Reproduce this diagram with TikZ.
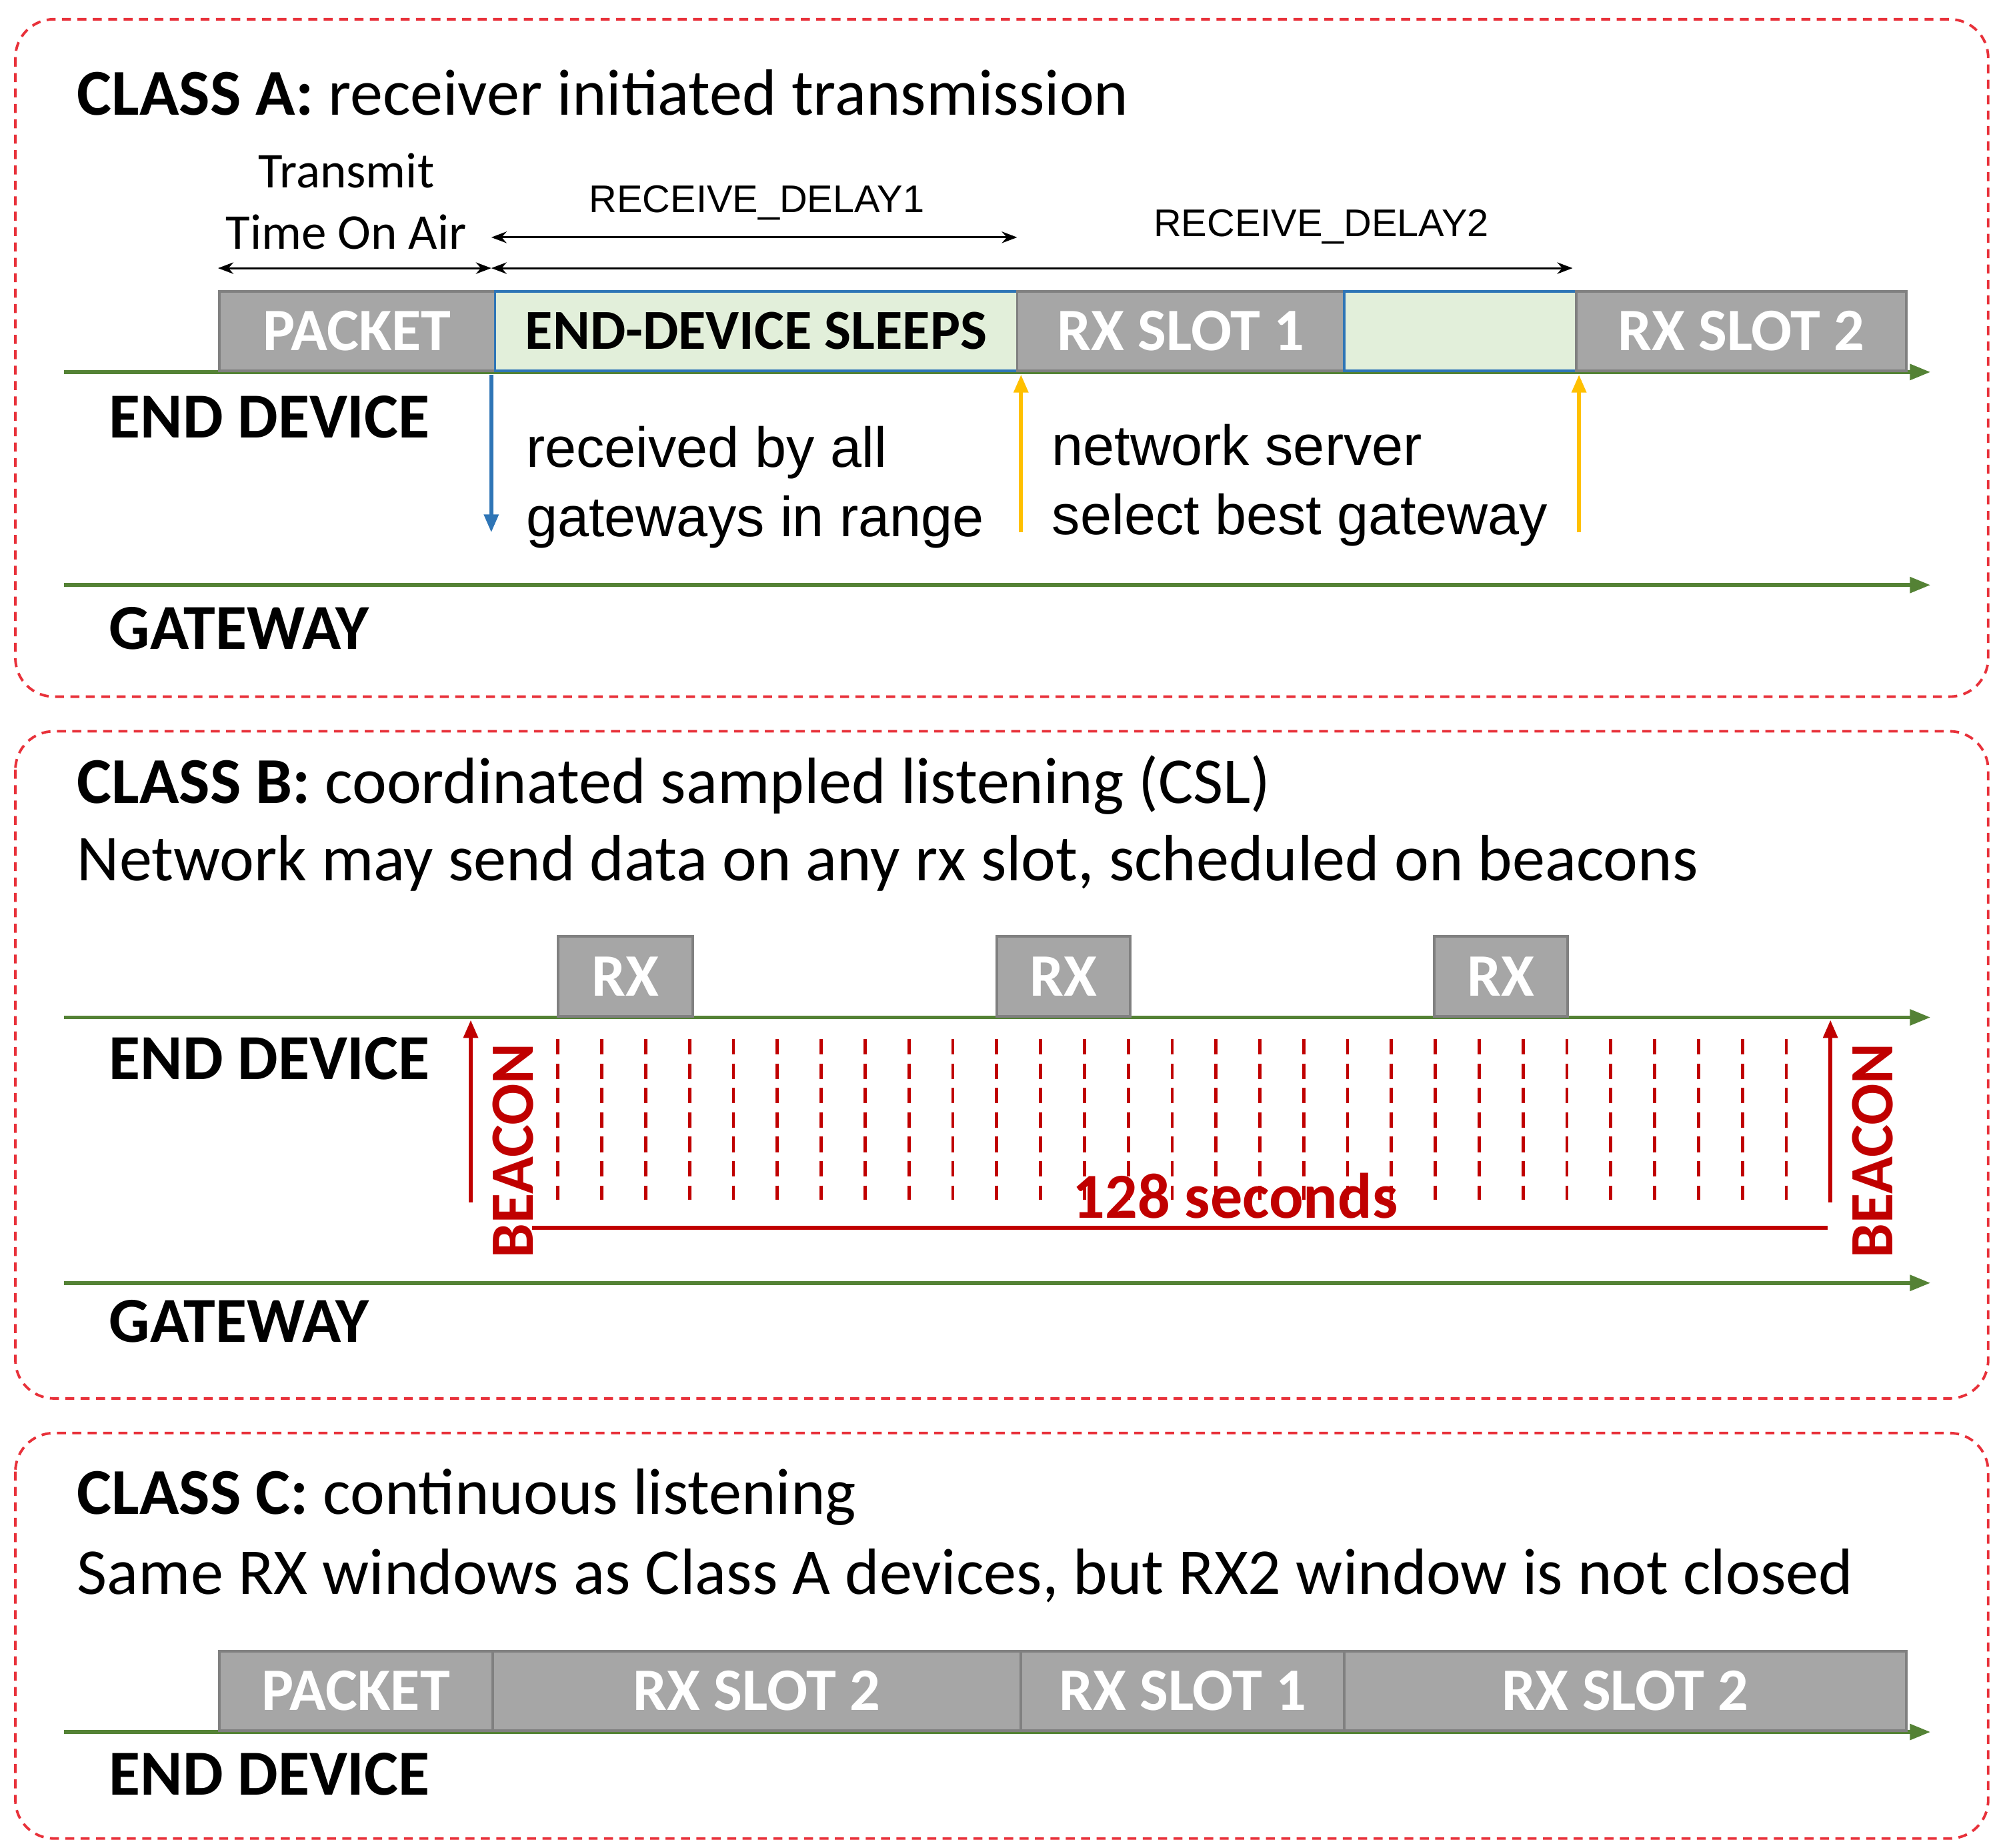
\documentclass[tikz,border=0pt]{standalone}
\usepackage{fontspec}
\setmainfont{Carlito}
\newfontfamily\arial{Liberation Sans}
\usetikzlibrary{arrows.meta}
\definecolor{ln}{HTML}{548235}
\definecolor{gb}{HTML}{A6A6A6}
\definecolor{gbd}{HTML}{808080}
\definecolor{lg}{HTML}{E2EFDA}
\definecolor{bb}{HTML}{2E75B6}
\definecolor{rd}{HTML}{C00000}
\definecolor{pr}{HTML}{E8313A}
\definecolor{yo}{HTML}{FFC000}
\begin{document}
\begin{tikzpicture}[x=1pt,y=-1pt,
 panel/.style={draw=pr,dashed,line width=2pt,dash pattern=on 7pt off 5pt,rounded corners=30pt},
 tl/.style={draw=ln,line width=3pt,-{Triangle[length=16pt,width=12pt]}},
 box/.style={draw=gbd,fill=gb,line width=2pt,anchor=south west,minimum height=62pt,inner sep=0pt,text=white,font=\fontsize{47}{56}\selectfont\bfseries},
 sbox/.style={draw=bb,fill=lg,line width=2pt,anchor=south west,minimum height=62pt,inner sep=0pt,text=black,font=\fontsize{44}{54}\selectfont\bfseries},
 title/.style={anchor=west,inner sep=0pt,font=\fontsize{51}{60}\selectfont},
 lab/.style={anchor=west,inner sep=0pt,font=\fontsize{50}{60}\selectfont\bfseries},
 ar/.style={inner sep=0pt,font=\arial\fontsize{44}{54}\selectfont},
 dim/.style={line width=1.5pt,{Stealth[length=12pt,width=9pt]}-{Stealth[length=12pt,width=9pt]}},
 sm/.style={inner sep=0pt,font=\fontsize{39}{46}\selectfont},
 sma/.style={inner sep=0pt,font=\arial\fontsize{30}{36}\selectfont},
 rarr/.style={draw=rd,line width=3pt,-{Triangle[length=14pt,width=11pt]}},
 beacon/.style={text=rd,rotate=90,inner sep=0pt,font=\fontsize{48}{56}\selectfont\bfseries}
]
\useasboundingbox (0,0) rectangle (1560,1440);
% panels
\draw[panel] (12,15) rectangle (1550,543);
\draw[panel] (12,570) rectangle (1550,1090);
\draw[panel] (12,1117) rectangle (1550,1433);
%%% CLASS A
\node[title] (ta) at (60,72) {\textbf{CLASS A:} receiver initiated transmission};
\coordinate (edA0) at (50,290); \coordinate (edA1) at (1505,290);
\draw[tl] (edA0) -- (edA1);
\coordinate (gwA0) at (50,456); \coordinate (gwA1) at (1505,456);
\draw[tl] (gwA0) -- (gwA1);
\node[box,minimum width=215pt] (pa) at (170,290) {PACKET};
\node[sbox,minimum width=407pt] (sl) at (385,290) {END-DEVICE SLEEPS};
\node[box,minimum width=255pt] (r1) at (792,290) {RX SLOT 1};
\node[sbox,minimum width=181pt] (em) at (1047,290) {};
\node[box,minimum width=257pt] (r2) at (1228,290) {RX SLOT 2};
\node[lab] (edA) at (85,325) {END DEVICE};
\node[lab] (gwA) at (85,490) {GATEWAY};
\coordinate (bl1) at (383,292); \coordinate (bl2) at (383,415);
\draw[draw=bb,line width=3pt,-{Triangle[length=14pt,width=11pt]}] (bl1) -- (bl2);
\coordinate (y1a) at (796,415); \coordinate (y1b) at (796,292);
\draw[draw=yo,line width=3pt,-{Triangle[length=14pt,width=11pt]}] (y1a) -- (y1b);
\coordinate (y2a) at (1231,415); \coordinate (y2b) at (1231,292);
\draw[draw=yo,line width=3pt,-{Triangle[length=14pt,width=11pt]}] (y2a) -- (y2b);
\node[ar,anchor=west,align=left] (rx) at (410,380) {received by all\\gateways in range};
\node[ar,anchor=west,align=left] (ns) at (820,378) {network server\\select best gateway};
\node[sm] (tt1) at (270,133) {Transmit};
\node[sm] (tt2) at (270,181) {Time On Air};
\coordinate (d1a) at (170,209); \coordinate (d1b) at (383,209);
\draw[dim] (d1a) -- (d1b);
\coordinate (d2a) at (383,185); \coordinate (d2b) at (793,185);
\draw[dim] (d2a) -- (d2b);
\node[sma] (rd1) at (590,158) {RECEIVE\_DELAY1};
\coordinate (d3a) at (383,209); \coordinate (d3b) at (1226,209);
\draw[dim] (d3a) -- (d3b);
\node[sma] (rd2) at (1030,177) {RECEIVE\_DELAY2};
%%% CLASS B
\node[title] (tb) at (60,612) {\textbf{CLASS B:} coordinated sampled listening (CSL)};
\node[title] (tb2) at (60,673) {Network may send data on any rx slot, scheduled on beacons};
\coordinate (edB0) at (50,793); \coordinate (edB1) at (1505,793);
\draw[tl] (edB0) -- (edB1);
\coordinate (gwB0) at (50,1000); \coordinate (gwB1) at (1505,1000);
\draw[tl] (gwB0) -- (gwB1);
\node[box,minimum width=105pt] (b1) at (434,793) {RX};
\node[box,minimum width=104pt] (b2) at (776,793) {RX};
\node[box,minimum width=104pt] (b3) at (1117,793) {RX};
\node[lab] (edB) at (85,825) {END DEVICE};
\node[lab] (gwB) at (85,1030) {GATEWAY};
\foreach \i in {0,...,28} {
  \draw[rd,line width=2.5pt,dash pattern=on 12pt off 7pt] ({435+\i*34.2},810) -- ({435+\i*34.2},935);
}
\coordinate (ba1) at (367,937); \coordinate (ba2) at (367,795);
\draw[rarr] (ba1) -- (ba2);
\coordinate (bb1) at (1427,937); \coordinate (bb2) at (1427,795);
\draw[rarr] (bb1) -- (bb2);
\node[beacon] (be1) at (400,897) {BEACON};
\node[beacon] (be2) at (1460,897) {BEACON};
\coordinate (h1) at (415,957); \coordinate (h2) at (1425,957);
\draw[rd,line width=3pt] (h1) -- (h2);
\node[text=rd,inner sep=0pt,font=\fontsize{50}{58}\selectfont\bfseries] (sec) at (963,932) {128 seconds};
%%% CLASS C
\node[title] (tc) at (60,1167) {\textbf{CLASS C:} continuous listening};
\node[title] (tc2) at (60,1228) {Same RX windows as Class A devices, but RX2 window is not closed};
\coordinate (edC0) at (50,1350); \coordinate (edC1) at (1505,1350);
\draw[tl] (edC0) -- (edC1);
\node[box,minimum width=213pt] (c1) at (170,1350) {PACKET};
\node[box,minimum width=412pt] (c2) at (383,1350) {RX SLOT 2};
\node[box,minimum width=252pt] (c3) at (795,1350) {RX SLOT 1};
\node[box,minimum width=438pt] (c4) at (1047,1350) {RX SLOT 2};
\node[lab] (edC) at (85,1383) {END DEVICE};
\end{tikzpicture}
\end{document}
